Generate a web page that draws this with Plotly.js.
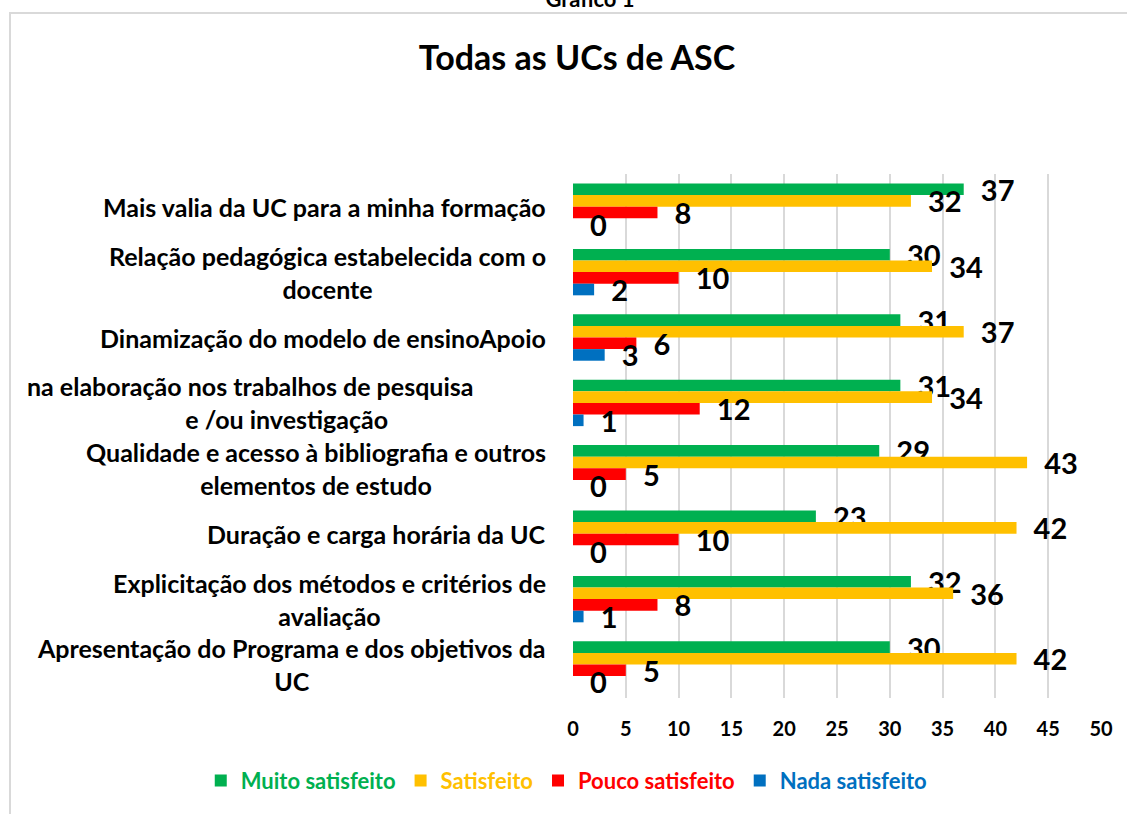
<!DOCTYPE html>
<html>
<head>
<meta charset="utf-8">
<script src="https://cdn.plot.ly/plotly-3.0.1.min.js"></script>
<style>
  html, body { margin: 0; padding: 0; background: #ffffff; }
  #wrap { position: relative; width: 1127px; height: 814px; overflow: hidden; }
  #frame { position: absolute; left: 9px; top: 12px; width: 1300px; height: 900px;
           border-left: 2px solid #d9d9d9; border-top: 2px solid #d9d9d9; }
  #cap { position: absolute; left: 0; width: 1180px; top: -15px; text-align: center;
         font-family: Lato, 'Open Sans', sans-serif; font-weight: bold; font-size: 22px; color: #000; }
  #chart { position: absolute; left: 0; top: 0; width: 1127px; height: 814px; }
</style>
</head>
<body>
<div id="wrap">
  <div id="frame"></div>
  <div id="cap">Gráfico 1</div>
  <div id="chart"></div>
</div>
<script>
// ---- data ----
const categories = [
  "Mais valia da UC para a minha formação",
  "Relação pedagógica estabelecida com o<br>docente",
  "Dinamização do modelo de ensinoApoio",
  "na elaboração nos trabalhos de pesquisa" + "\u00a0".repeat(12) + "<br>e /ou investigação",
  "Qualidade e acesso à bibliografia e outros<br>elementos de estudo",
  "Duração e carga horária da UC",
  "Explicitação dos métodos e critérios de<br>avaliação",
  "Apresentação do Programa e dos objetivos da<br>UC"
];
const seriesNames = ["Muito satisfeito", "Satisfeito", "Pouco satisfeito", "Nada satisfeito"];
const muitoSatisfeito = [37, 30, 31, 31, 29, 23, 32, 30];
const satisfeito      = [32, 34, 37, 34, 43, 42, 36, 42];
const poucoSatisfeito = [8, 10, 6, 12, 5, 10, 8, 5];
const nadaSatisfeito  = [0, 2, 3, 1, 0, 0, 1, 0];
const xTicks = [0, 5, 10, 15, 20, 25, 30, 35, 40, 45, 50];
const chartTitle = "Todas as UCs de ASC";

// ---- styles ----
const colors = ["#00b050", "#ffc000", "#ff0000", "#0070c0"];
const FONT = "Lato, 'Open Sans', sans-serif";
const values = [muitoSatisfeito, satisfeito, poucoSatisfeito, nadaSatisfeito];

const traces = values.map((v, i) => ({
  type: "bar",
  orientation: "h",
  x: v,
  y: categories,
  name: '<span style="color:' + colors[i] + '">' + seriesNames[i] + '</span>',
  marker: { color: colors[i] },
  texttemplate: "\u00a0\u00a0%{x}",
  textposition: "outside",
  constraintext: "none",
  cliponaxis: false,
  textfont: { family: FONT, size: 29, color: "#000000", weight: "bold" },
  hoverinfo: "x+y"
}));

const catAnnotations = categories.map(c => ({
  xref: "paper", yref: "y",
  x: -0.047, y: c,
  xanchor: "right", yanchor: "middle",
  align: "center",
  text: c,
  showarrow: false,
  font: { family: FONT, size: 25, color: "#000000", weight: "bold" }
}));

const layout = {
  width: 1127, height: 814,
  paper_bgcolor: "rgba(0,0,0,0)",
  plot_bgcolor: "rgba(0,0,0,0)",
  margin: { l: 573, r: 26, t: 174, b: 114, pad: 0 },
  barmode: "group",
  bargap: 0.29,
  bargroupgap: 0,
  title: {
    text: "<b>" + chartTitle + "</b>",
    x: 0.512, xref: "container", xanchor: "center",
    y: 0.929, yref: "container", yanchor: "middle",
    font: { family: FONT, size: 34, color: "#000000" }
  },
  xaxis: {
    range: [0, 50],
    tickvals: xTicks,
    showgrid: true,
    gridcolor: "#d9d9d9",
    gridwidth: 1.5,
    zeroline: false,
    showline: false,
    ticks: "outside",
    ticklen: 13,
    tickcolor: "rgba(0,0,0,0)",
    tickfont: { family: FONT, size: 20, color: "#000000", weight: "bold" },
    fixedrange: true
  },
  yaxis: {
    type: "category",
    autorange: "reversed",
    showticklabels: false,
    showgrid: false,
    zeroline: false,
    showline: false,
    ticks: "",
    fixedrange: true
  },
  legend: {
    orientation: "h",
    x: -0.705, xref: "paper", xanchor: "left",
    y: -0.158, yref: "paper", yanchor: "middle",
    font: { family: FONT, size: 22, weight: "bold" },
    itemclick: false, itemdoubleclick: false,
    traceorder: "normal"
  },
  annotations: catAnnotations,
  showlegend: true
};

Plotly.newPlot("chart", traces, layout, { displayModeBar: false });
</script>
</body>
</html>
